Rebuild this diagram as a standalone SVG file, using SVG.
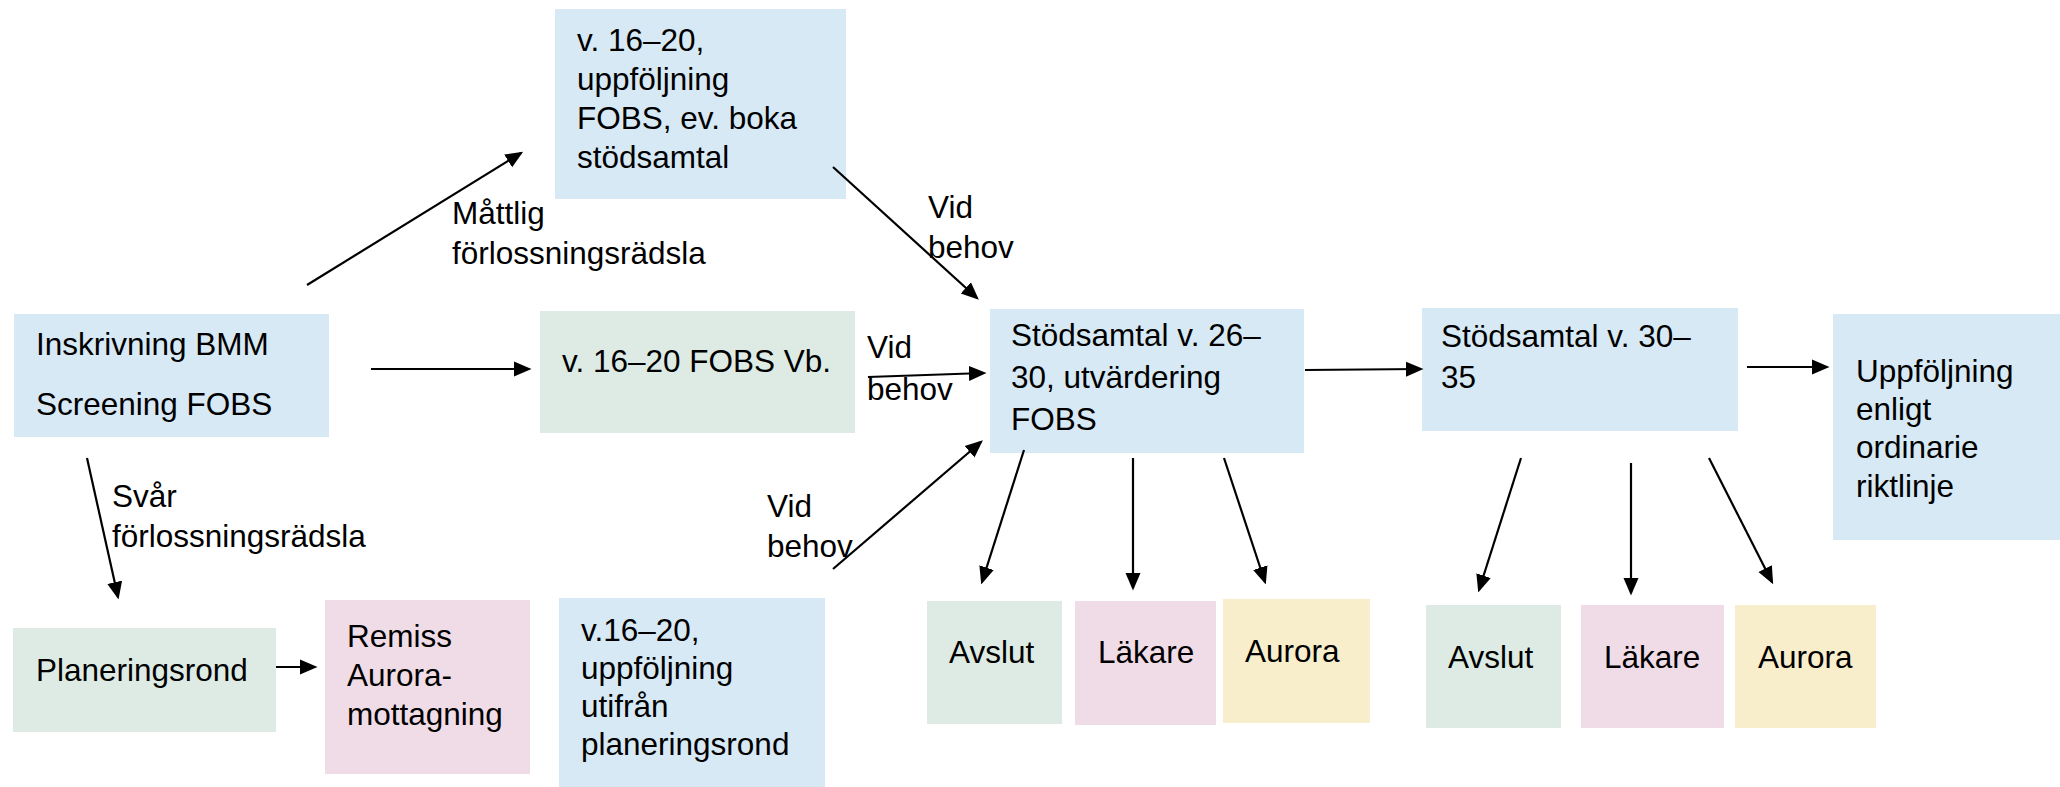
<svg xmlns="http://www.w3.org/2000/svg" width="2060" height="787" viewBox="0 0 2060 787">
<defs>
<style>
text{font-family:"Liberation Sans",Arial,sans-serif;font-size:31.5px;fill:#000}
.blue{fill:#d7e9f5}
.green{fill:#ddebe4}
.pink{fill:#f0dce6}
.yellow{fill:#f9eecc}
.conn line{stroke:#000;stroke-width:2.2;marker-end:url(#ah)}
</style>
<marker id="ah" markerWidth="8" markerHeight="8" refX="6" refY="3" orient="auto" markerUnits="strokeWidth" viewBox="0 0 7 6">
<path d="M0,0 L7,3 L0,6 z" fill="#000"/>
</marker>
</defs>
<rect width="2060" height="787" fill="#fff"/>

<g id="n-inskrivning"><rect class="blue" x="14" y="314" width="315" height="123"/><text x="36" y="355">Inskrivning BMM</text><text x="36" y="415">Screening FOBS</text></g>
<g id="n-top"><rect class="blue" x="555" y="9" width="291" height="190"/><text x="577" y="51">v. 16–20,</text><text x="577" y="90">uppföljning</text><text x="577" y="129">FOBS, ev. boka</text><text x="577" y="168">stödsamtal</text></g>
<g id="n-vb"><rect class="green" x="540" y="311" width="315" height="122"/><text x="562" y="372">v. 16–20 FOBS Vb.</text></g>
<g id="n-stod1"><rect class="blue" x="990" y="309" width="314" height="144"/><text x="1011" y="346">Stödsamtal v. 26–</text><text x="1011" y="388">30, utvärdering</text><text x="1011" y="430">FOBS</text></g>
<g id="n-stod2"><rect class="blue" x="1422" y="308" width="316" height="123"/><text x="1441" y="347">Stödsamtal v. 30–</text><text x="1441" y="388">35</text></g>
<g id="n-uppf"><rect class="blue" x="1833" y="314" width="227" height="226"/><text x="1856" y="382">Uppföljning</text><text x="1856" y="420">enligt</text><text x="1856" y="458">ordinarie</text><text x="1856" y="497">riktlinje</text></g>
<g id="n-plan"><rect class="green" x="13" y="628" width="263" height="104"/><text x="36" y="681">Planeringsrond</text></g>
<g id="n-remiss"><rect class="pink" x="325" y="600" width="205" height="174"/><text x="347" y="647">Remiss</text><text x="347" y="686">Aurora-</text><text x="347" y="725">mottagning</text></g>
<g id="n-v16b"><rect class="blue" x="559" y="598" width="266" height="189"/><text x="581" y="641">v.16–20,</text><text x="581" y="679">uppföljning</text><text x="581" y="717">utifrån</text><text x="581" y="755">planeringsrond</text></g>
<g id="n-avslut1"><rect class="green" x="927" y="601" width="135" height="123"/><text x="949" y="663">Avslut</text></g>
<g id="n-lakare1"><rect class="pink" x="1075" y="601" width="141" height="124"/><text x="1098" y="663">Läkare</text></g>
<g id="n-aurora1"><rect class="yellow" x="1223" y="599" width="147" height="124"/><text x="1245" y="662">Aurora</text></g>
<g id="n-avslut2"><rect class="green" x="1426" y="605" width="135" height="123"/><text x="1448" y="668">Avslut</text></g>
<g id="n-lakare2"><rect class="pink" x="1581" y="605" width="143" height="123"/><text x="1604" y="668">Läkare</text></g>
<g id="n-aurora2"><rect class="yellow" x="1735" y="605" width="141" height="123"/><text x="1758" y="668">Aurora</text></g>

<g id="connectors" class="conn">
<line x1="307" y1="285" x2="521" y2="153"/>
<line x1="371" y1="369" x2="529" y2="369"/>
<line x1="833" y1="167" x2="977" y2="298"/>
<line x1="868" y1="377" x2="984" y2="373"/>
<line x1="833" y1="569" x2="981" y2="442"/>
<line x1="87" y1="458" x2="118" y2="597"/>
<line x1="276" y1="667" x2="315" y2="667"/>
<line x1="1024" y1="450" x2="982" y2="582"/>
<line x1="1133" y1="458" x2="1133" y2="588"/>
<line x1="1224" y1="458" x2="1265" y2="582"/>
<line x1="1305" y1="370" x2="1421" y2="369"/>
<line x1="1747" y1="367" x2="1827" y2="367"/>
<line x1="1521" y1="458" x2="1479" y2="590"/>
<line x1="1631" y1="463" x2="1631" y2="593"/>
<line x1="1709" y1="458" x2="1772" y2="582"/>
</g>
<g id="labels">
<text x="452" y="224">Måttlig</text><text x="452" y="264">förlossningsrädsla</text>
<text x="928" y="218">Vid</text><text x="928" y="258">behov</text>
<text x="867" y="358">Vid</text><text x="867" y="400">behov</text>
<text x="112" y="507">Svår</text><text x="112" y="547">förlossningsrädsla</text>
<text x="767" y="517">Vid</text><text x="767" y="557">behov</text>
</g>
</svg>
